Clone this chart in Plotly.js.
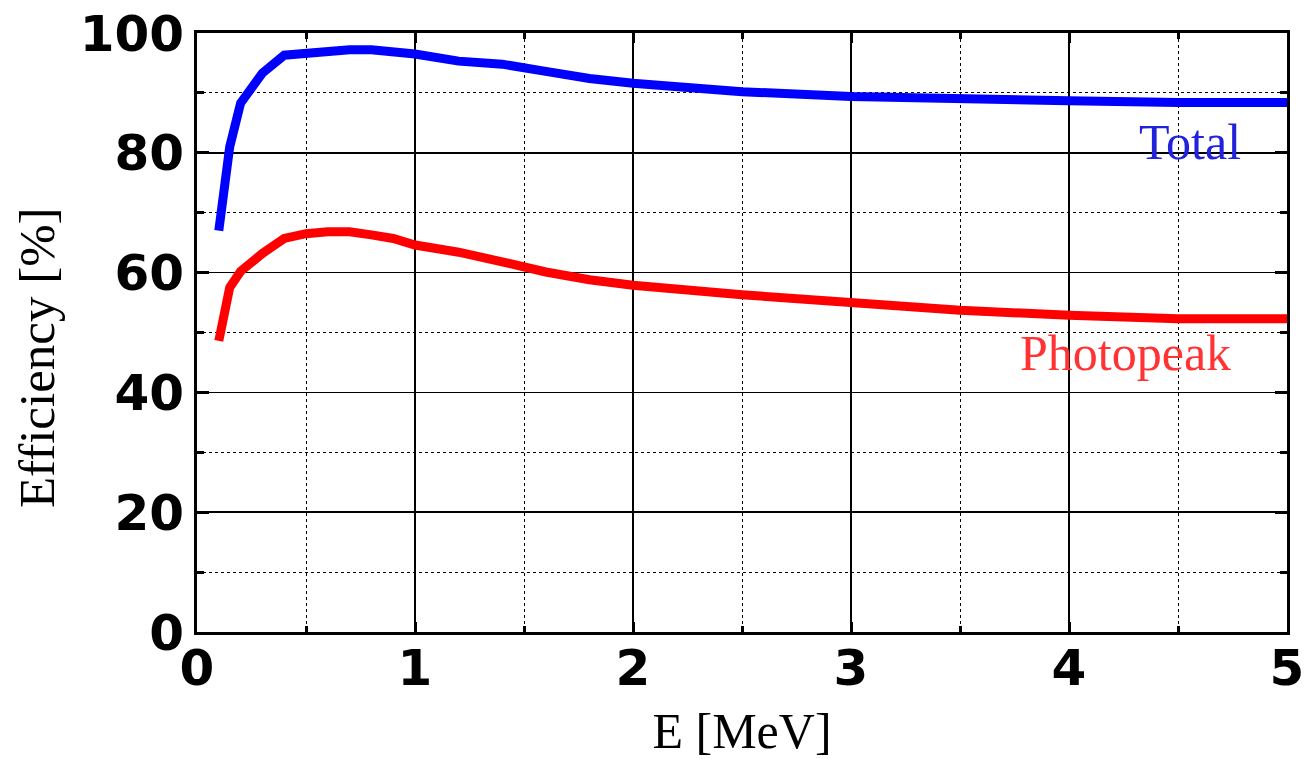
<!DOCTYPE html>
<html>
<head>
<meta charset="utf-8">
<script src="https://cdn.plot.ly/plotly-3.0.1.min.js"></script>
<style>
  html, body { margin: 0; padding: 0; background: #ffffff; }
  #chart { width: 1309px; height: 759px; }
</style>
</head>
<body>
<div id="chart"></div>
<script>
// Gamma-ray energy (MeV)
const energyTotal = [0.1, 0.15, 0.2, 0.3, 0.4, 0.5, 0.6, 0.7, 0.8, 0.9, 1.0, 1.2, 1.4, 1.6, 1.8, 2.0, 2.5, 3.0, 3.5, 4.0, 4.5, 5.0];
// Total detection efficiency (%)
const totalEff = [67.0, 81.0, 88.3, 93.3, 96.3, 96.7, 96.8, 97.2, 97.2, 96.9, 96.5, 95.3, 94.8, 93.6, 92.4, 91.6, 90.2, 89.4, 88.9, 88.7, 88.4, 88.4];

const energyPeak = [0.1, 0.15, 0.2, 0.3, 0.4, 0.5, 0.6, 0.7, 0.8, 0.9, 1.0, 1.2, 1.4, 1.6, 1.8, 2.0, 2.5, 3.0, 3.5, 4.0, 4.5, 5.0];
// Full-energy (photopeak) efficiency (%)
const peakEff = [48.6, 57.5, 60.2, 63.2, 65.7, 66.5, 66.8, 66.8, 66.3, 65.7, 64.6, 63.4, 61.8, 60.1, 58.8, 57.9, 56.3, 54.9, 53.7, 52.9, 52.3, 52.3];

const xTicks = [0, 1, 2, 3, 4, 5];
const yTicks = [0, 20, 40, 60, 80, 100];
const seriesNames = ["Total", "Photopeak"];
const xTitle = "E [MeV]";
const yTitle = "Efficiency [%]";

const serif = "Liberation Serif, Times New Roman, serif";
const tickFont = { family: "DejaVu Sans, sans-serif", size: 50, weight: "bold", color: "#000000" };

const traces = [
  {
    x: energyTotal, y: totalEff, name: seriesNames[0], type: "scatter", mode: "lines",
    line: { color: "#0000ff", width: 9 }
  },
  {
    x: energyPeak, y: peakEff, name: seriesNames[1], type: "scatter", mode: "lines",
    line: { color: "#ff0000", width: 9 }
  }
];

const axisCommon = {
  showline: true, linecolor: "#000000", linewidth: 3, mirror: "ticks",
  ticks: "inside", tickwidth: 3, tickcolor: "#000000",
  showgrid: true, gridcolor: "#000000", gridwidth: 1.5,
  zeroline: false, tickfont: tickFont, fixedrange: true
};

const layout = {
  width: 1309, height: 759,
  margin: { l: 197, r: 22, t: 33, b: 127 },
  paper_bgcolor: "#ffffff", plot_bgcolor: "#ffffff",
  showlegend: false,
  xaxis: Object.assign({}, axisCommon, {
    range: [0, 5], tickmode: "array", tickvals: xTicks, ticktext: xTicks.map(String),
    ticklen: 10, ticklabelstandoff: -10,
    minor: { dtick: 0.5, showgrid: true, griddash: "dot", gridcolor: "#000000", gridwidth: 1, ticks: "inside", ticklen: 6, tickwidth: 3, tickcolor: "#000000" },
    title: { text: xTitle, font: { family: serif, size: 50, color: "#000000" }, standoff: 30 }
  }),
  yaxis: Object.assign({}, axisCommon, {
    range: [0, 100], tickmode: "array", tickvals: yTicks, ticktext: yTicks.map(String),
    ticklen: 12,
    minor: { dtick: 10, showgrid: true, griddash: "dot", gridcolor: "#000000", gridwidth: 1, ticks: "inside", ticklen: 7, tickwidth: 3, tickcolor: "#000000" }
  }),
  annotations: [
    { x: -0.1468, y: 0.459, xref: "paper", yref: "paper", text: yTitle, textangle: -90,
      xanchor: "center", yanchor: "middle", showarrow: false,
      font: { family: serif, size: 51, color: "#000000" } },
    { x: 4.555, y: 81.8, xref: "x", yref: "y", text: seriesNames[0], showarrow: false,
      font: { family: serif, size: 50, color: "#2222dd" } },
    { x: 4.257, y: 46.6, xref: "x", yref: "y", text: seriesNames[1], showarrow: false,
      font: { family: serif, size: 50, color: "#ff3333" } }
  ]
};

Plotly.newPlot("chart", traces, layout, { staticPlot: true, displayModeBar: false });
</script>
</body>
</html>
